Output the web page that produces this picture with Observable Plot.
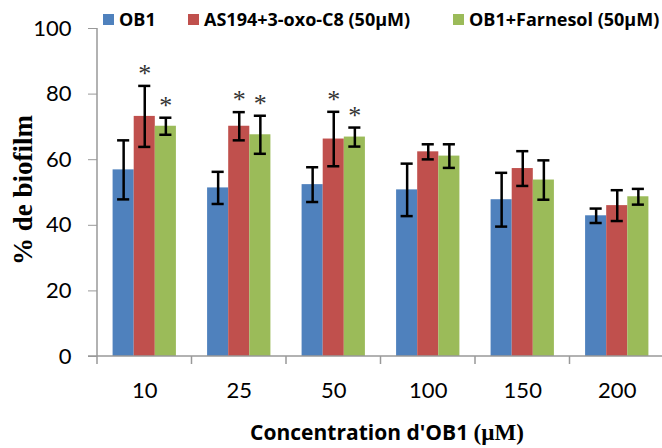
<!DOCTYPE html>
<html><head><meta charset="utf-8">
<script src="https://cdn.jsdelivr.net/npm/d3@7"></script>
<script src="https://cdn.jsdelivr.net/npm/@observablehq/plot@0.6"></script>
<style>
body{margin:0;background:#fff;}
#chart{position:relative;width:662px;height:448px;overflow:hidden;font-family:Lato,sans-serif;}
.leg{position:absolute;top:19px;transform:translateY(-50%);font:bold 18px "Open Sans",sans-serif;display:flex;align-items:center;white-space:nowrap;color:#000}
.sw{display:inline-block;width:11px;height:11px;margin-right:5px}
#xt{position:absolute;left:387px;top:432px;transform:translate(-50%,-50%);white-space:nowrap;font:bold 21px "Open Sans",sans-serif}
#xt .s{font-family:"Liberation Serif",serif;font-size:23px}
#yt{position:absolute;left:23px;top:190px;transform:translate(-50%,-50%) rotate(-90deg);white-space:nowrap;font:bold 27px "Liberation Serif",serif}
</style></head><body><div id="chart"></div>
<script>
const categories = ["10","25","50","100","150","200"];
const series = ["OB1","AS194+3-oxo-C8 (50µM)","OB1+Farnesol (50µM)"];
const colors = ["#4F81BD","#C0504D","#9BBB59"];
const ob1 = [56.9,51.4,52.4,50.8,47.8,42.9];
const ob1Err = [9.0,4.9,5.3,8.0,8.2,2.2];
const as194 = [73.2,70.2,66.3,62.4,57.3,46.0];
const as194Err = [9.3,4.3,8.3,2.3,5.3,4.7];
const farnesol = [70.2,67.6,66.9,61.1,53.8,48.7];
const farnesolErr = [2.6,5.8,2.9,3.6,6.0,2.4];
const ob1Star = [0,0,0,0,0,0];
const as194Star = [1,1,1,0,0,0];
const farnesolStar = [1,1,1,0,0,0];
const yTicks = [0,20,40,60,80,100];

const vals=[ob1,as194,farnesol], errs=[ob1Err,as194Err,farnesolErr], stars=[ob1Star,as194Star,farnesolStar];
const rows=[];
categories.forEach((c,i)=>series.forEach((s,j)=>rows.push({cat:c,series:s,value:vals[j][i],lo:vals[j][i]-errs[j][i],hi:vals[j][i]+errs[j][i],star:stars[j][i]})));

const W=662,H=448,mL=97,mR=-2,mT=28,mB=92;
const padIn=0.33,padOut=0.165;
const step=(W-mL-mR)/categories.length;

const plot=Plot.plot({
  width:W,height:H,marginLeft:mL,marginRight:mR,marginTop:mT,marginBottom:mB,
  style:{fontFamily:"Lato, sans-serif",background:"white",overflow:"visible",color:"black"},
  fx:{domain:categories,paddingInner:padIn,paddingOuter:padOut,label:null,round:false},
  x:{domain:series,padding:0,axis:null,round:false},
  y:{domain:[0,100],axis:null},
  color:{domain:series,range:colors},
  marks:[
    Plot.barY(rows,{fx:"cat",x:"series",y:"value",fill:"series"}),
    Plot.ruleX(rows,{fx:"cat",x:"series",y1:"lo",y2:"hi",stroke:"black",strokeWidth:2.5}),
    Plot.tickY(rows,{fx:"cat",x:"series",y:"hi",stroke:"black",strokeWidth:2.5,insetLeft:4.5,insetRight:4.5}),
    Plot.tickY(rows,{fx:"cat",x:"series",y:"lo",stroke:"black",strokeWidth:2.5,insetLeft:4.5,insetRight:4.5}),
    Plot.text(rows.filter(d=>d.star),{fx:"cat",x:"series",y:"hi",text:()=>"*",dy:-4,lineAnchor:"bottom",fontSize:26,fontFamily:"Liberation Serif, serif",fill:"#333"}),
    Plot.axisY({ticks:yTicks,tickSize:9,tickPadding:17,fontSize:22,stroke:"#999",fill:"black",dx:-step*padOut,label:null}),
    Plot.axisFx({anchor:"bottom",tickSize:0,tickPadding:26,fontSize:22,label:null,fill:"black"})
  ]
});

const svg=d3.select(plot);
const fx=plot.scale("fx"), y=plot.scale("y");
const r0=fx.range[0], r1=fx.range[1];
const y0=y.apply(0), yTop=y.apply(100);
const g=svg.append("g").attr("stroke","#999").attr("stroke-width",1.5);
g.append("line").attr("x1",r0).attr("x2",r0).attr("y1",yTop).attr("y2",y0);
g.append("line").attr("x1",r0-9).attr("x2",r1).attr("y1",y0).attr("y2",y0);
d3.range(categories.length+1).forEach(i=>{
  const xb=r0+i*fx.step;
  g.append("line").attr("x1",xb).attr("x2",xb).attr("y1",y0).attr("y2",y0+8);
});

const chart=document.getElementById("chart");
chart.appendChild(plot);
const legX=[103,188,453];
series.forEach((s,j)=>{
  const d=document.createElement("div");d.className="leg";d.style.left=legX[j]+"px";
  d.innerHTML=`<span class="sw" style="background:${colors[j]}"></span>${s}`;
  chart.appendChild(d);
});
const xt=document.createElement("div");xt.id="xt";
xt.innerHTML="Concentration d'OB1 <span class='s'>(µM)</span>";chart.appendChild(xt);
const yt=document.createElement("div");yt.id="yt";yt.textContent="% de biofilm";chart.appendChild(yt);
</script></body></html>
